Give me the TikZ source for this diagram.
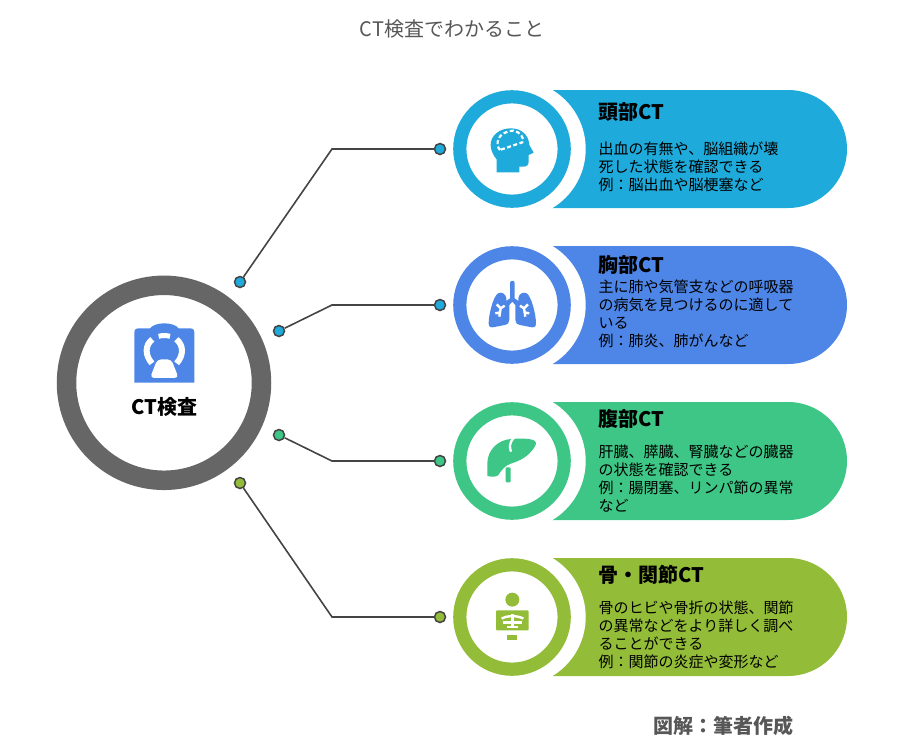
\documentclass[tikz,border=0pt]{standalone}
\usepackage{fontspec}
\setmainfont{Noto Sans CJK JP}
\definecolor{headblue}{HTML}{1EAADA}
\definecolor{chestblue}{HTML}{4D86E6}
\definecolor{bellygreen}{HTML}{3DC685}
\definecolor{boneolive}{HTML}{93BC38}
\definecolor{ringgray}{HTML}{666666}
\definecolor{wiregray}{HTML}{444444}
\tikzset{
  dotnode/.style={circle,draw=wiregray,line width=1.5pt,minimum size=11pt,inner sep=0pt},
  wire/.style={draw=wiregray,line width=1.6pt},
  badge/.style={circle,draw=#1,line width=13.2pt,fill=white,minimum size=104.4pt,inner sep=0pt},
  cuthole/.style={circle,fill=white,minimum size=138pt,inner sep=0pt},
  cardtitle/.style={anchor=west,inner sep=0pt,font=\fontsize{20}{22}\selectfont\bfseries},
  cardtext/.style={anchor=west,align=left,inner sep=0pt,font=\fontsize{15}{18}\selectfont},
}
\begin{document}
\begin{tikzpicture}[x=1pt,y=-1pt]
  \useasboundingbox (0,0) rectangle (897,744);
  \node [font=\fontsize{20}{22}\selectfont, text=wiregray!90!white, inner sep=0pt] (title) at (452,29) {CT検査でわかること};

  % cards
  \foreach \cy/\col/\nm in {149/headblue/head,305/chestblue/chest,461/bellygreen/belly,617/boneolive/bone} {
    \fill [\col, rounded corners=59pt] (490,\cy-59) rectangle (847,\cy+59);
    \node [cuthole] (hole\nm) at (516.7,\cy) {};
    \node [badge=\col] (badge\nm) at (512,\cy) {};
  }

  % hub
  \node [circle, draw=ringgray, line width=19.5pt, minimum size=195pt, inner sep=0pt] (hub) at (164,382.8) {};

  % connectors
  \node [dotnode, fill=headblue] (headstart) at (240,282) {};
  \node [dotnode, fill=headblue] (headend) at (440,149) {};
  \coordinate (headbend) at (332,149);
  \draw [wire] (headstart) -- (headbend) -- (headend);
  \node [dotnode, fill=headblue] (cheststart) at (279,331) {};
  \node [dotnode, fill=headblue] (chestend) at (440,305) {};
  \coordinate (chestbend) at (332,305);
  \draw [wire] (cheststart) -- (chestbend) -- (chestend);
  \node [dotnode, fill=bellygreen] (bellystart) at (279,435) {};
  \node [dotnode, fill=bellygreen] (bellyend) at (440,461) {};
  \coordinate (bellybend) at (332,461);
  \draw [wire] (bellystart) -- (bellybend) -- (bellyend);
  \node [dotnode, fill=boneolive] (bonestart) at (240,483) {};
  \node [dotnode, fill=boneolive] (boneend) at (440,617) {};
  \coordinate (bonebend) at (332,617);
  \draw [wire] (bonestart) -- (bonebend) -- (boneend);

  % scanner icon
  \begin{scope}[shift={(50,270)},x=0.3333pt,y=-0.3333pt]
    \fill [chestblue] (253,338) -- (253,188) .. controls (253,178) and (258,175) .. (268,175) -- (300,175)
      .. controls (315,155) and (371,155) .. (386,175) -- (418,175) .. controls (428,175) and (433,178) .. (433,188) -- (433,338) -- cycle;
    \draw [white, line width=6pt] (306,280) .. controls (284,255) and (285,225) .. (307,208);
    \draw [white, line width=6pt] (380,280) .. controls (402,255) and (401,225) .. (379,208);
    \draw [white, line width=5pt] (326,199) .. controls (335,196) and (351,196) .. (360,199);
    \fill [white, rounded corners=4pt] (322,268) -- (364,268) -- (386,324) -- (300,324) -- cycle;
  \end{scope}
  \node [inner sep=0pt, font=\fontsize{20}{24}\selectfont\bfseries] (hublabel) at (164.5,407) {CT検査};

  % head icon
  \begin{scope}[shift={(470,110)},x=0.3333pt,y=-0.3333pt]
    \fill [headblue] (80,187) -- (80,148) .. controls (65,130) and (62,115) .. (62,105)
      .. controls (62,75) and (90,55) .. (122,55) .. controls (155,55) and (176,75) .. (178,105)
      -- (191,128) -- (176,135) -- (176,155) .. controls (176,165) and (170,170) .. (160,170) -- (148,170) -- (148,187) -- cycle;
    \draw [white, line width=2.2pt, dash pattern=on 4pt off 2.5pt] (90,120) .. controls (75,105) and (80,65) .. (130,62)
      .. controls (150,65) and (165,85) .. (157,97) -- (90,120);
  \end{scope}

  % lungs icon
  \begin{scope}[shift={(470,265)},x=0.3333pt,y=-0.3333pt]
    \fill [chestblue] (120,54) .. controls (120,45) and (134,45) .. (134,54) -- (134,100) -- (145,108) -- (145,100) .. controls (147,85) and (160,80) .. (170,85)
      .. controls (185,95) and (198,150) .. (198,175) .. controls (198,188) and (190,188) .. (180,186) -- (150,180) .. controls (140,178) and (136,172) .. (136,165)
      -- (136,120) -- (127,110) -- (118,120) -- (118,165) .. controls (118,172) and (114,178) .. (104,180) -- (74,186) .. controls (64,188) and (56,188) .. (56,175)
      .. controls (56,150) and (69,95) .. (84,85) .. controls (94,80) and (107,85) .. (109,100) -- (109,108) -- (120,100) -- cycle;
    \draw [white, line width=2.4pt] (80,118) -- (92,130) -- (88,155) (92,130) -- (104,122) (92,142) -- (76,145);
    \draw [white, line width=2.4pt] (174,118) -- (162,130) -- (166,155) (162,130) -- (150,122) (162,142) -- (178,145);
  \end{scope}

  % liver icon
  \begin{scope}[shift={(470,420)},x=0.3333pt,y=-0.3333pt]
    \fill [bellygreen] (52,168) -- (52,130) .. controls (52,90) and (85,58) .. (125,57)
      .. controls (150,55) and (175,55) .. (190,60) .. controls (200,65) and (200,72) .. (193,82)
      .. controls (175,110) and (150,122) .. (125,130) .. controls (105,136) and (95,150) .. (85,165) .. controls (80,170) and (70,172) .. (52,168) -- cycle;
    \draw [white, line width=2.3pt] (131,54) .. controls (118,68) and (118,82) .. (123,95);
    \fill [bellygreen, rounded corners=1pt] (107,142) rectangle (122,187);
  \end{scope}

  % skeleton icon
  \begin{scope}[shift={(470,578)},x=0.3333pt,y=-0.3333pt]
    \fill [boneolive] (127,65) circle [x radius=21, y radius=21];
    \fill [boneolive, rounded corners=1pt] (78,97) rectangle (176,157);
    \fill [boneolive] (112,172) rectangle (142,187);
    \draw [white, line width=2.6pt] (127,108) -- (127,150);
    \draw [white, line width=2.4pt] (95,122) .. controls (110,112) and (144,112) .. (160,122);
    \draw [white, line width=2.4pt] (100,133) -- (155,133);
    \draw [white, line width=2.4pt] (110,147) -- (145,147);
  \end{scope}

  % card texts
  \node [cardtitle] (headtitle) at (598.5,112) {頭部CT};
  \node [cardtext] (headtext) at (598.5,166.5) {出血の有無や、脳組織が壊\\死した状態を確認できる\\例：脳出血や脳梗塞など};
  \node [cardtitle] (chesttitle) at (598.5,265) {胸部CT};
  \node [cardtext] (chesttext) at (598.5,313.5) {主に肺や気管支などの呼吸器\\の病気を見つけるのに適して\\いる\\例：肺炎、肺がんなど};
  \node [cardtitle] (bellytitle) at (598.5,419) {腹部CT};
  \node [cardtext] (bellytext) at (598.5,478.5) {肝臓、膵臓、腎臓などの臓器\\の状態を確認できる\\例：腸閉塞、リンパ節の異常\\など};
  \node [cardtitle] (bonetitle) at (598.5,575) {骨・関節CT};
  \node [cardtext] (bonetext) at (598.5,634.5) {骨のヒビや骨折の状態、関節\\の異常などをより詳しく調べ\\ることができる\\例：関節の炎症や変形など};

  \node [inner sep=0pt, anchor=east, text=wiregray!90!white, font=\fontsize{20}{24}\selectfont\bfseries] (credit) at (794,726) {図解：筆者作成};
\end{tikzpicture}
\end{document}
